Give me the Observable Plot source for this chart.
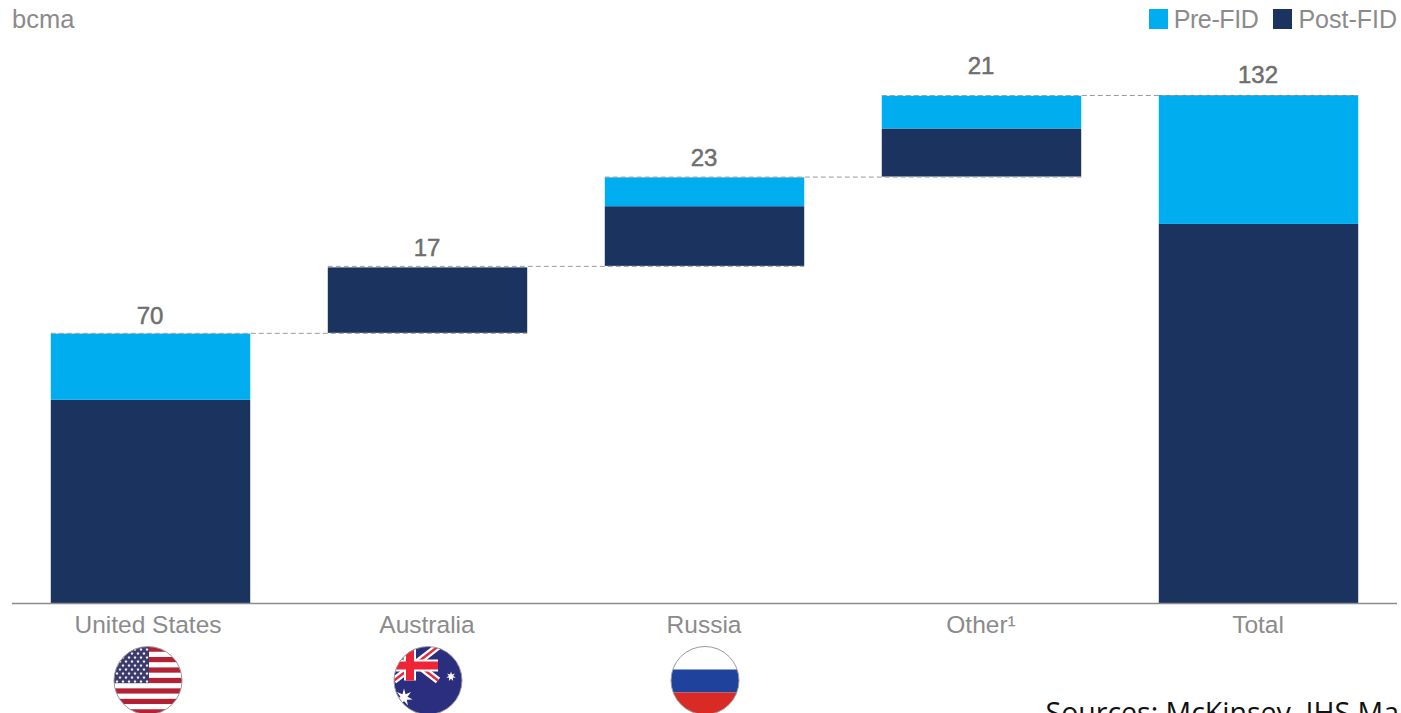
<!DOCTYPE html>
<html>
<head>
<meta charset="utf-8">
<script src="https://cdn.jsdelivr.net/npm/d3@7"></script>
<script src="https://cdn.jsdelivr.net/npm/@observablehq/plot@0.6"></script>
<style>
  html, body { margin: 0; padding: 0; background: #fff; overflow: hidden; }
  #page { position: relative; width: 1401px; height: 713px; font-family: "Liberation Sans", sans-serif; color: #8b8b8b; }
  #unit { position: absolute; left: 12px; top: 5px; font-size: 25.5px; line-height: 28px; z-index: 1; }
  #legend { position: absolute; right: 4px; top: 5px; display: flex; align-items: center; font-size: 25px; line-height: 28px; z-index: 1; }
  #legend i { display: inline-block; width: 19px; height: 20px; margin-right: 6px; }
  #legend span { margin-right: 15px; letter-spacing: -0.4px; }
  #legend span:last-child { margin-right: 0; letter-spacing: 0; }
  svg { overflow: hidden; display: block; }
</style>
</head>
<body>
<div id="page">
  <div id="unit">bcma</div>
  <div id="legend"></div>
</div>
<script>
// Supply by origin, in bcma. Each column floats on the running total of those before it.
const categories = ["United States", "Australia", "Russia", "Other¹", "Total"];
const columnBase = [0, 70.2, 87.6, 110.8, 0];
const postFid = [52.8, 17, 15.5, 12.5, 98.5];
const preFid = [17.2, 0, 7.5, 8.5, 33.5];
const totals = [70, 17, 23, 21, 132];

const seriesNames = ["Pre-FID", "Post-FID"];
const seriesColors = ["#00aeef", "#1b335f"];

const sourceNote = "Sources: McKinsey, IHS Markit";

const columns = categories.map((name, i) => ({
  name,
  i,
  left: i - 0.36,
  right: i + 0.36,
  base: columnBase[i],
  split: columnBase[i] + postFid[i],
  top: columnBase[i] + postFid[i] + preFid[i],
  total: totals[i]
}));

const segments = columns.flatMap(c => [
  {x1: c.left, x2: c.right, y1: c.base, y2: c.split, series: "Post-FID"},
  {x1: c.left, x2: c.right, y1: c.split, y2: c.top, series: "Pre-FID"}
]).filter(s => s.y2 > s.y1);

// Dashed connectors run from one column's top across the next column's base.
const connectors = columns.slice(0, 4).map((c, i) => ({
  x1: c.left,
  x2: columns[i + 1].right,
  y: i === 3 ? columns[4].top : columns[i + 1].base
}));

// Flags are small SVG images, clipped to circles by the image mark.
const svgUri = body =>
  "data:image/svg+xml," + encodeURIComponent(
    `<svg xmlns="http://www.w3.org/2000/svg" viewBox="0 0 68 68" width="68" height="68">${body}</svg>`);

function starPath(cx, cy, outer, inner, points) {
  let p = "";
  for (let k = 0; k < points * 2; k++) {
    const r = k % 2 ? inner : outer;
    const a = -Math.PI / 2 + k * Math.PI / points;
    p += (k ? "L" : "M") + (cx + r * Math.cos(a)).toFixed(2) + " " + (cy + r * Math.sin(a)).toFixed(2);
  }
  return p + "Z";
}

function usFlag() {
  const h = 68 / 13;
  let s = `<rect width="68" height="68" fill="#fff"/>`;
  for (let k = 0; k < 13; k += 2) s += `<rect y="${k * h}" width="68" height="${h}" fill="#b22234"/>`;
  s += `<rect width="35" height="${7 * h}" fill="#3c3b6e"/>`;
  for (let r = 0; r < 9; r++) {
    const n = r % 2 ? 5 : 6;
    for (let c = 0; c < n; c++) {
      s += `<path d="${starPath(3 + (r % 2 ? 3 : 0) + c * 6, 3 + r * 4, 1.7, 0.8, 5)}" fill="#fff"/>`;
    }
  }
  return svgUri(s);
}

function australiaFlag() {
  const s = `<rect width="68" height="68" fill="#2b2e7f"/>
    <path d="M0 0L44 34M44 0L0 34" stroke="#fff" stroke-width="7"/>
    <path d="M0 0L44 34M44 0L0 34" stroke="#ee2536" stroke-width="2.4"/>
    <rect x="10" width="12" height="34" fill="#fff"/><rect y="13" width="44" height="12" fill="#fff"/>
    <rect x="12" width="8" height="34" fill="#ee2536"/><rect y="15" width="44" height="8" fill="#ee2536"/>
    <path d="${starPath(57, 30, 5, 2.2, 7)}" fill="#fff"/>
    <path d="${starPath(10, 51, 9, 3.6, 7)}" fill="#fff"/>`;
  return svgUri(s);
}

function russiaFlag() {
  return svgUri(`<rect width="68" height="23" fill="#fff"/><rect y="23" width="68" height="23" fill="#1f429c"/><rect y="46" width="68" height="22" fill="#d92a26"/>`);
}

const flags = [
  {i: 0, src: usFlag()},
  {i: 1, src: australiaFlag()},
  {i: 2, src: russiaFlag()}
];

const labelFont = {fontSize: 24.5, fontFamily: "Liberation Sans, sans-serif"};
const valueStyle = {fontSize: 24, fontFamily: "Liberation Sans, sans-serif", text: d => String(d.total), x: "i", y: "top", fill: "#6e6e6e", stroke: "#6e6e6e", strokeWidth: 0.5, lineAnchor: "middle", dx: -1};
const otherCategory = "Other¹";
const firstCategory = "United States";

const chart = Plot.plot({
  width: 1401,
  height: 713,
  marginLeft: 12,
  marginRight: 4,
  marginTop: 95,
  marginBottom: 110,
  style: {background: "#fff", overflow: "hidden"},
  x: {domain: [-0.5, 4.5], axis: null},
  y: {domain: [0, 132], axis: null},
  color: {domain: seriesNames, range: seriesColors},
  marks: [
    Plot.rect(segments, {x1: "x1", x2: "x2", y1: "y1", y2: "y2", fill: "series"}),
    Plot.ruleY(connectors, {x1: "x1", x2: "x2", y: "y", stroke: "#9c9c9c", strokeWidth: 1, strokeDasharray: "5 3"}),
    Plot.ruleY([0], {stroke: "#8c8c8c", strokeWidth: 1.3}),
    Plot.text(columns.filter(c => c.name === firstCategory), {...valueStyle, dy: -18}),
    Plot.text(columns.filter(c => c.name !== otherCategory && c.name !== firstCategory), {...valueStyle, dy: -20}),
    Plot.text(columns.filter(c => c.name === otherCategory), {...valueStyle, dy: -30}),
    Plot.text(columns.filter(c => c.name !== firstCategory), {...labelFont, x: "i", text: "name", frameAnchor: "bottom", lineAnchor: "middle", dy: 22, dx: -1, fill: "#8b8b8b"}),
    Plot.text(columns.filter(c => c.name === firstCategory), {...labelFont, x: "i", text: "name", frameAnchor: "bottom", lineAnchor: "middle", dy: 22, dx: -3, fill: "#8b8b8b"}),
    Plot.image(flags.filter(f => f.i === 0), {x: "i", src: "src", r: 34, frameAnchor: "bottom", dy: 77, dx: -3}),
    Plot.image(flags.filter(f => f.i !== 0), {x: "i", src: "src", r: 34, frameAnchor: "bottom", dy: 77}),
    Plot.dot(flags.filter(f => f.i === 0), {x: "i", r: 34, stroke: "#9a9a9a", strokeWidth: 1, frameAnchor: "bottom", dy: 77, dx: -3}),
    Plot.dot(flags.filter(f => f.i !== 0), {x: "i", r: 34, stroke: "#9a9a9a", strokeWidth: 1, frameAnchor: "bottom", dy: 77}),
    Plot.text([sourceNote], {text: d => d, frameAnchor: "bottom-left", textAnchor: "start", lineAnchor: "middle", dx: 1033, dy: 110, fontSize: 28.5, fontFamily: "Open Sans, sans-serif", fill: "#111"})
  ]
});

const page = document.getElementById("page");
page.appendChild(chart);

const legend = document.getElementById("legend");
seriesNames.forEach((name, k) => {
  const item = document.createElement("span");
  item.style.display = "inline-flex";
  item.style.alignItems = "center";
  const swatch = document.createElement("i");
  swatch.style.background = seriesColors[k];
  item.append(swatch, name);
  legend.appendChild(item);
});
</script>
</body>
</html>
